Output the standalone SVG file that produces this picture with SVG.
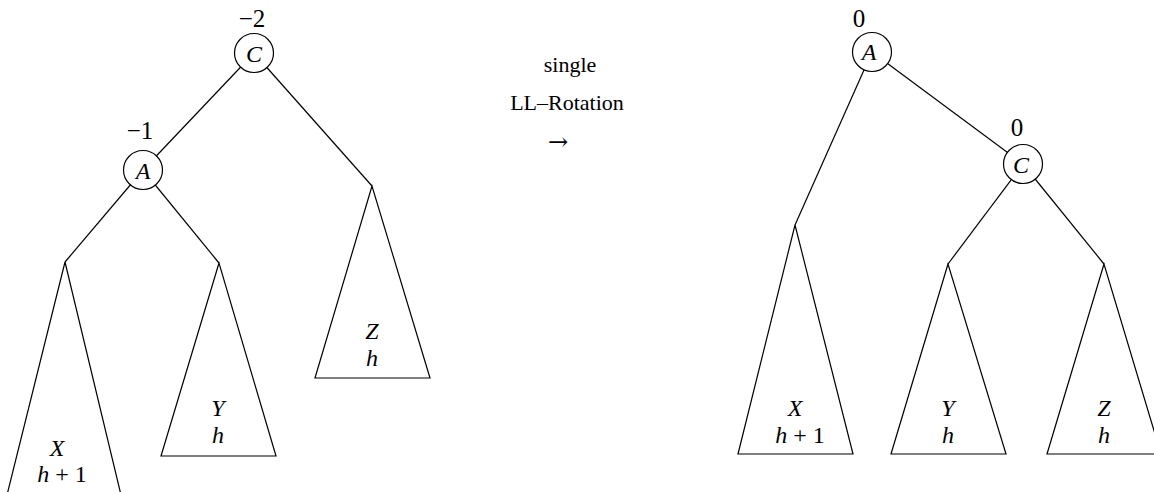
<svg xmlns="http://www.w3.org/2000/svg" width="1154" height="492" viewBox="0 0 1154 492">
<style>
.e{stroke:#000;stroke-width:1.2;fill:none}
.n{fill:#fff;stroke:#000;stroke-width:1.2}
.m{font-family:"Liberation Serif",serif;font-style:italic;font-size:24px;text-anchor:middle}
.r{font-family:"Liberation Serif",serif;font-size:25px;text-anchor:middle}
.t{font-family:"Liberation Serif",serif;font-size:22px;text-anchor:middle}
.a{font-family:"DejaVu Serif",serif;font-size:24px;text-anchor:middle}
</style>
<rect width="1154" height="492" fill="#fff"/>
<g id="connectors">
<line class="e" x1="254" y1="53" x2="143" y2="170"/>
<line class="e" x1="254" y1="53" x2="372" y2="186"/>
<line class="e" x1="143" y1="170" x2="65" y2="262"/>
<line class="e" x1="143" y1="170" x2="219" y2="263"/>
<line class="e" x1="872" y1="52" x2="795" y2="225"/>
<line class="e" x1="872" y1="52" x2="1023" y2="164"/>
<line class="e" x1="1023" y1="164" x2="948" y2="264"/>
<line class="e" x1="1023" y1="164" x2="1104" y2="264"/>
</g>
<g id="nodeC1">
<circle class="n" cx="254" cy="53" r="19.5"/>
<text class="m" x="254" y="62">C</text>
<text class="r" x="252" y="27">−2</text>
</g>
<g id="nodeA1">
<circle class="n" cx="143" cy="170" r="19.5"/>
<text class="m" x="143" y="179">A</text>
<text class="r" x="140" y="139">−1</text>
</g>
<g id="treeX1">
<polyline class="e" points="7,495 65,262 121,495"/>
<text class="m" x="57" y="456">X</text>
<text class="m" x="62" y="482">h<tspan font-style="normal"> + 1</tspan></text>
</g>
<g id="treeY1">
<polygon class="e" points="219,263 161,456 276,456"/>
<text class="m" x="218" y="416">Y</text>
<text class="m" x="218" y="443">h</text>
</g>
<g id="treeZ1">
<polygon class="e" points="372,186 315,378 430,378"/>
<text class="m" x="372" y="339">Z</text>
<text class="m" x="372" y="366">h</text>
</g>
<g id="label">
<text class="t" x="570" y="72">single</text>
<text class="t" x="567" y="110">LL–Rotation</text>
<text class="a" x="558" y="150">→</text>
</g>
<g id="nodeA2">
<circle class="n" cx="872" cy="52" r="19.5"/>
<text class="m" x="869" y="60">A</text>
<text class="r" x="859" y="27">0</text>
</g>
<g id="nodeC2">
<circle class="n" cx="1023" cy="164" r="19.5"/>
<text class="m" x="1021" y="173">C</text>
<text class="r" x="1017" y="136">0</text>
</g>
<g id="treeX2">
<polygon class="e" points="795,225 738,454 853,454"/>
<text class="m" x="795" y="416">X</text>
<text class="m" x="800" y="443">h<tspan font-style="normal"> + 1</tspan></text>
</g>
<g id="treeY2">
<polygon class="e" points="948,264 891,454 1006,454"/>
<text class="m" x="948" y="416">Y</text>
<text class="m" x="948" y="443">h</text>
</g>
<g id="treeZ2">
<polygon class="e" points="1104,264 1047,454 1161,454"/>
<text class="m" x="1104" y="416">Z</text>
<text class="m" x="1104" y="443">h</text>
</g>
</svg>
